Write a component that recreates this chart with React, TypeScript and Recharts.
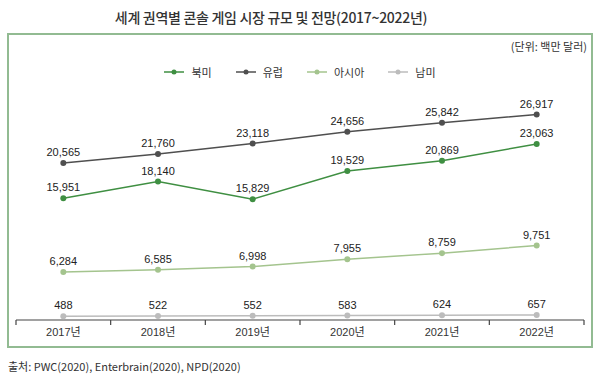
import React from "react";
import { LineChart, Line, XAxis, YAxis, LabelList, Legend } from "recharts";

const years = ["2017년", "2018년", "2019년", "2020년", "2021년", "2022년"];
const northAmerica = [15951, 18140, 15829, 19529, 20869, 23063];
const europe = [20565, 21760, 23118, 24656, 25842, 26917];
const asia = [6284, 6585, 6998, 7955, 8759, 9751];
const southAmerica = [488, 522, 552, 583, 624, 657];

const seriesList = [
  { key: "na", name: "북미", color: "#3f8f42" },
  { key: "eu", name: "유럽", color: "#4f4f4f" },
  { key: "asia", name: "아시아", color: "#a4c48e" },
  { key: "sa", name: "남미", color: "#bcbcbc" },
];

const data = years.map((year, i) => ({
  year,
  na: northAmerica[i],
  eu: europe[i],
  asia: asia[i],
  sa: southAmerica[i],
}));

const font = "'Liberation Sans', 'Noto Sans CJK KR', sans-serif";

const LegendContent = () => (
  <div
    style={{
      display: "flex",
      justifyContent: "center",
      gap: 24,
      fontSize: 11,
      color: "#333",
      fontFamily: "'Noto Sans CJK KR', sans-serif",
    }}
  >
    {seriesList.map((s) => (
      <div key={s.key} style={{ display: "flex", alignItems: "center", gap: 7 }}>
        <svg width={20} height={8}>
          <line x1={0} y1={4} x2={20} y2={4} stroke={s.color} strokeWidth={1.5} />
          <circle cx={10} cy={4} r={2.5} fill={s.color} />
        </svg>
        <span>{s.name}</span>
      </div>
    ))}
  </div>
);

// tick label plus boundary tick marks between the year bands
const YearTick = (props: any) => {
  const { x, y, payload, index, visibleTicksCount } = props;
  const half = payload?.offset ?? 0;
  const isLast = index === visibleTicksCount - 1;
  return (
    <g>
      <line x1={x - half} y1={y} x2={x - half} y2={y + 5} stroke="#444" strokeWidth={1.2} />
      {isLast && (
        <line x1={x + half} y1={y} x2={x + half} y2={y + 5} stroke="#444" strokeWidth={1.2} />
      )}
      <text x={x} y={y + 16} textAnchor="middle" fontSize={11} fill="#333">
        {payload.value}
      </text>
    </g>
  );
};

export default function App() {
  return (
    <div
      style={{
        position: "absolute",
        top: 0,
        left: 0,
        width: 600,
        height: 375,
        background: "#fff",
        fontFamily: font,
      }}
    >
      <div
        style={{
          position: "absolute",
          top: 7,
          left: 0,
          width: 542,
          textAlign: "center",
          fontSize: 14,
          fontWeight: 500,
          color: "#333",
          fontFamily: "'Noto Sans CJK KR', sans-serif",
          letterSpacing: -0.3,
        }}
      >
        세계 권역별 콘솔 게임 시장 규모 및 전망(2017~2022년)
      </div>
      <div
        style={{
          position: "absolute",
          left: 7,
          top: 33,
          width: 586,
          height: 315,
          boxSizing: "border-box",
          border: "2px solid #92bb92",
        }}
      />
      <div
        style={{
          position: "absolute",
          right: 13,
          top: 38,
          fontSize: 11,
          color: "#333",
          fontFamily: "'Noto Sans CJK KR', sans-serif",
        }}
      >
        (단위: 백만 달러)
      </div>
      <div
        style={{
          position: "absolute",
          left: 8,
          top: 358,
          fontSize: 11,
          color: "#333",
          fontFamily: "'Noto Sans CJK KR', sans-serif",
        }}
      >
        출처: PWC(2020), Enterbrain(2020), NPD(2020)
      </div>
      <div style={{ position: "absolute", top: 0, left: 0 }}>
        <LineChart
          width={600}
          height={375}
          data={data}
          margin={{ top: 91, right: 16, left: 16, bottom: 25 }}
          style={{ fontFamily: font }}
        >
          <XAxis
            dataKey="year"
            scale="band"
            height={30}
            axisLine={{ stroke: "#444", strokeWidth: 1.2 }}
            tickLine={false}
            tickSize={0}
            tickMargin={0}
            interval={0}
            tick={<YearTick />}
          />
          <YAxis hide domain={[0, 30000]} />
          <Legend
            layout="horizontal"
            verticalAlign="middle"
            align="center"
            wrapperStyle={{ top: 64, left: 0, width: 600 }}
            content={<LegendContent />}
          />
          {seriesList.map((s) => (
            <Line
              key={s.key}
              dataKey={s.key}
              name={s.name}
              stroke={s.color}
              strokeWidth={1.5}
              dot={{ r: 3, fill: s.color, stroke: s.color, strokeWidth: 0 }}
              isAnimationActive={false}
            >
              <LabelList
                dataKey={s.key}
                position="top"
                offset={7}
                fontSize={11}
                fill="#222"
                formatter={(v: number) => v.toLocaleString("en-US")}
              />
            </Line>
          ))}
        </LineChart>
      </div>
    </div>
  );
}
